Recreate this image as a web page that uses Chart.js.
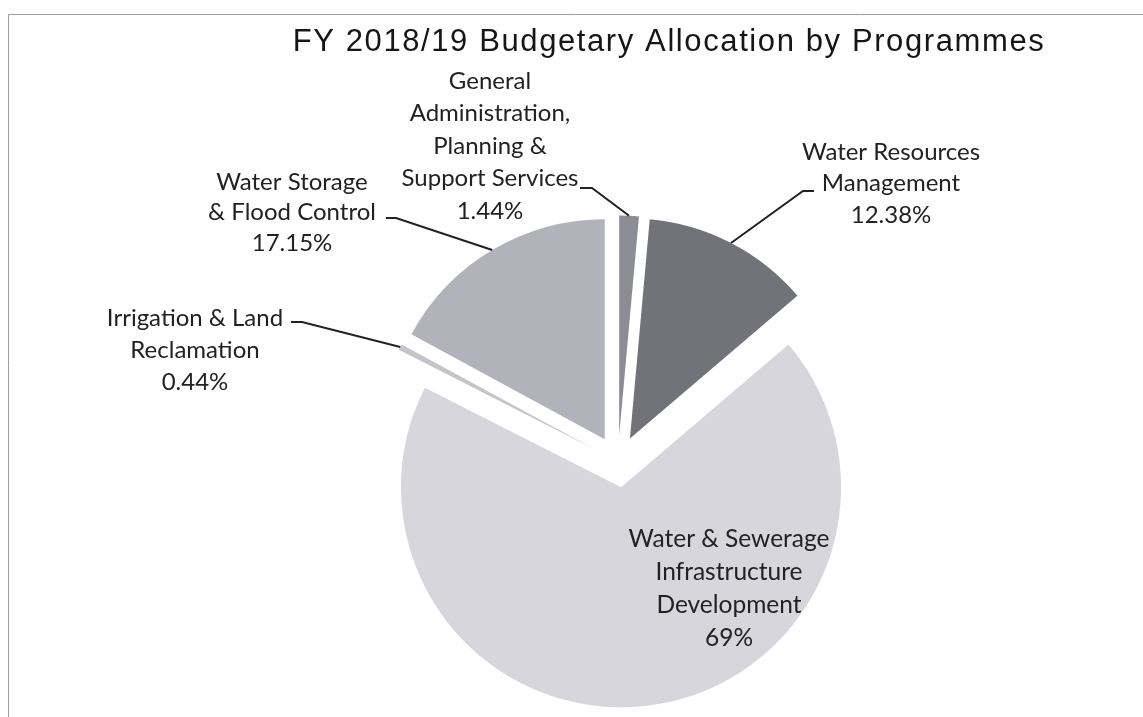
<!DOCTYPE html>
<html>
<head>
<meta charset="utf-8">
<script src="https://cdn.jsdelivr.net/npm/chart.js@4.4.1/dist/chart.umd.min.js"></script>
<style>
    html, body { margin: 0; padding: 0; background: #fff; }
    #wrap { width: 1143px; height: 717px; position: relative; }
</style>
</head>
<body>
<div id="wrap"><canvas id="chartjs-pie"></canvas></div>
<script>
const chartTitle = "FY 2018/19 Budgetary Allocation by Programmes";

// order follows the pie clockwise from 12 o'clock
const programmes = [
    "General Administration, Planning & Support Services",
    "Water Resources Management",
    "Water & Sewerage Infrastructure Development",
    "Irrigation & Land Reclamation",
    "Water Storage & Flood Control"
];
const shares = [1.44, 12.38, 69, 0.44, 17.15];
const shareLabels = ["1.44%", "12.38%", "69%", "0.44%", "17.15%"];
const labelLines = [
    ["General", "Administration,", "Planning &", "Support Services"],
    ["Water Resources", "Management"],
    ["Water & Sewerage", "Infrastructure", "Development"],
    ["Irrigation & Land", "Reclamation"],
    ["Water Storage", "& Flood Control"]
];

const sliceColors = ["#8c8c94", "#727279", "#d6d6dc", "#c4c4ca", "#b2b2ba"];

// exploded look: every slice pushed out from the centre by this much
const explode = 26;

// where each label block sits and where its leader line starts
const labelLayout = [
    { x: 490, y: 81, gap: 32.5, size: 24, leader: [[580, 188], [592, 188]] },
    { x: 891, y: 152, gap: 31.5, size: 24, leader: [[814, 191], [803, 191]] },
    { x: 729, y: 539, gap: 33, size: 24.5, leader: null },
    { x: 195, y: 318, gap: 32, size: 24, leader: [[291, 322], [302, 322]] },
    { x: 292, y: 182, gap: 30.5, size: 24, leader: [[386, 218], [396, 218]] }
];

// draw the library's arcs, each shifted outward along its mid angle
const explodePlugin = {
    id: "explodeSlices",
    beforeDatasetDraw(chart, args) {
        const ctx = chart.ctx;
        args.meta.data.forEach(arc => {
            const mid = (arc.startAngle + arc.endAngle) / 2;
            ctx.save();
            ctx.translate(Math.cos(mid) * explode, Math.sin(mid) * explode);
            arc.draw(ctx, chart.chartArea);
            ctx.restore();
        });
        return false;
    }
};

const labelPlugin = {
    id: "sliceLabels",
    afterDraw(chart) {
        const ctx = chart.ctx;
        const arcs = chart.getDatasetMeta(0).data;
        ctx.save();

        // scanned frame
        ctx.strokeStyle = "#9c9c9c";
        ctx.lineWidth = 1;
        ctx.beginPath();
        ctx.moveTo(8.5, 717);
        ctx.lineTo(8.5, 14.5);
        ctx.lineTo(1143, 14.5);
        ctx.stroke();

        // title
        ctx.fillStyle = "#161616";
        ctx.font = '31px "Liberation Sans", Arial, sans-serif';
        ctx.textAlign = "center";
        ctx.textBaseline = "middle";
        ctx.letterSpacing = "1.6px";
        ctx.fillText(chartTitle, 669, 42);
        ctx.letterSpacing = "0px";

        arcs.forEach((arc, i) => {
            const lay = labelLayout[i];
            const lines = labelLines[i].concat([shareLabels[i]]);
            ctx.fillStyle = "#222";
            ctx.font = lay.size + 'px Lato, "Open Sans", sans-serif';
            lines.forEach((t, k) => ctx.fillText(t, lay.x, lay.y + k * lay.gap));

            if (lay.leader) {
                const mid = (arc.startAngle + arc.endAngle) / 2;
                const r = arc.outerRadius + explode;
                const ex = arc.x + Math.cos(mid) * r;
                const ey = arc.y + Math.sin(mid) * r;
                ctx.strokeStyle = "#222";
                ctx.lineWidth = 2;
                ctx.beginPath();
                ctx.moveTo(lay.leader[0][0], lay.leader[0][1]);
                ctx.lineTo(lay.leader[1][0], lay.leader[1][1]);
                ctx.lineTo(ex, ey);
                ctx.stroke();
            }
        });
        ctx.restore();
    }
};

let ctx = document.getElementById("chartjs-pie").getContext("2d");

window.pieChart = new Chart(ctx, {
    type: "pie",
    data: {
        labels: programmes,
        datasets: [{
            data: shares,
            backgroundColor: sliceColors,
            borderWidth: 0
        }]
    },
    options: {
        responsive: true,
        maintainAspectRatio: false,
        animation: false,
        events: [],
        radius: 220,
        layout: {
            padding: { left: 93, right: 0, top: 206, bottom: 0 }
        },
        plugins: {
            legend: { display: false },
            title: { display: false },
            tooltip: { enabled: false }
        }
    },
    plugins: [explodePlugin, labelPlugin]
});
</script>
</body>
</html>
